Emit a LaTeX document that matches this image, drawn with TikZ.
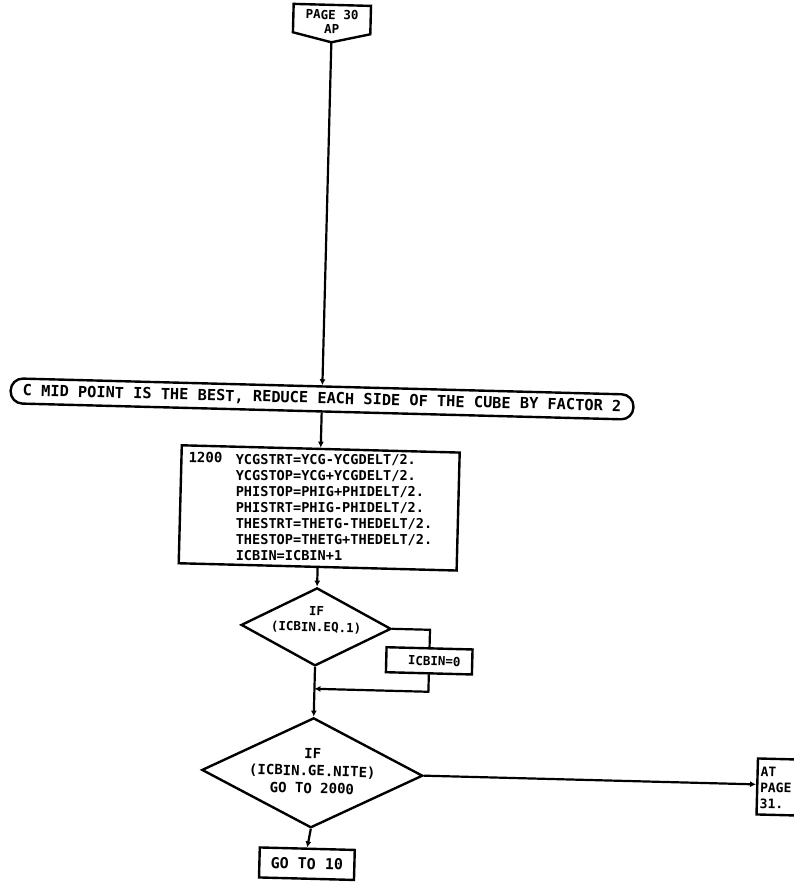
\documentclass[tikz,border=0pt]{standalone}
\usepackage{fontspec}
\setmonofont{DejaVu Sans Mono}
\usetikzlibrary{shapes.geometric,arrows.meta,calc}
\tikzset{
  ln/.style={line width=2.2pt},
  arr/.style={line width=2.2pt,-{Latex[length=6pt,width=6pt]}},
  box/.style={draw,line width=2.4pt,inner sep=0pt,transform shape},
  outline/.style={draw,line width=2.4pt,line join=miter},
  txt/.style={font={\ttfamily\bfseries\fontsize{#1}{#1}\selectfont},inner sep=0pt,align=center,transform shape},
}
\begin{document}
\begin{tikzpicture}[x=1pt,y=-1pt]
\path[use as bounding box,fill=white] (0,0) rectangle (793,883);
\begin{scope}[rotate around={-1.5:(400,440)}]
  % off-page connector at top
  \node[minimum width=77pt,minimum height=28pt,inner sep=0pt,transform shape] (top) at (321,21) {};
  \node[align=center,inner sep=0pt,transform shape,font={\ttfamily\bfseries\fontsize{12.5}{14.5}\selectfont}] (toptxt) at (321,24) {PAGE 30\\AP};
  \coordinate (toptip) at ($(top.south)+(0,9)$);
  \draw[outline] (top.north west) -- (top.north east) -- (top.south east) -- (toptip) -- (top.south west) -- cycle;
  % comment
  \node[box,rounded corners=12pt,minimum width=623pt,minimum height=25pt,txt=15.3] (cmt) at (321,401)
    {C MID POINT IS THE BEST, REDUCE EACH SIDE OF THE CUBE BY FACTOR 2};
  % statement block
  \node[box,minimum width=278pt,minimum height=118pt] (calc) at (321,510) {};
  \node[txt=14,anchor=north west,align=left] (lbl) at (189,457) {1200};
  \node[anchor=north west,align=left,inner sep=0pt,font={\ttfamily\bfseries\fontsize{13.6}{16}\selectfont}] (eqs) at (236,458)
    {YCGSTRT=YCG-YCGDELT/2.\\YCGSTOP=YCG+YCGDELT/2.\\PHISTOP=PHIG+PHIDELT/2.\\PHISTRT=PHIG-PHIDELT/2.\\THESTRT=THETG-THEDELT/2.\\THESTOP=THETG+THEDELT/2.\\ICBIN=ICBIN+1};
  % decision 1
  \node[box,diamond,minimum width=150pt,minimum height=78pt] (d1) at (321,629) {};
  \node[align=center,inner sep=0pt,transform shape,font={\ttfamily\bfseries\fontsize{12.5}{16}\selectfont}] (d1t) at (321,622) {IF\\(ICBIN.EQ.1)};
  % side box
  \node[box,minimum width=86pt,minimum height=25pt] (sb) at (435,660) {};
  \node[txt=12.5] (sbt) at (440,660) {ICBIN=0};
  \coordinate (mrg) at (321,691);
  % decision 2
  \node[box,diamond,minimum width=221pt,minimum height=110pt] (d2) at (321,775) {};
  \node[align=center,inner sep=0pt,transform shape,font={\ttfamily\bfseries\fontsize{14}{17.5}\selectfont}] (d2t) at (321,773) {IF\\(ICBIN.GE.NITE)\\GO TO 2000};
  % go to 10
  \node[box,minimum width=95pt,minimum height=30pt,txt=15] (go) at (318,866) {GO TO 10};
  % off-page connector at right (cut by page edge)
  \node[box,anchor=west,minimum width=70pt,minimum height=56pt] (atpg) at (765,777) {};
  \node[anchor=north west,align=left,inner sep=0pt,transform shape,font={\ttfamily\bfseries\fontsize{13}{16}\selectfont}] (atpgt) at (769,757) {AT\\PAGE\\31.};
  % connectors
  \draw[arr] (toptip) -- (cmt.north);
  \draw[arr] (cmt.south) -- (calc.north);
  \draw[arr] (calc.south) -- (d1.north);
  \draw[ln] (d1.east) -| (sb.north);
  \draw[arr] (sb.south) |- (mrg);
  \draw[arr] (d1.south) -- (d2.north);
  \draw[arr] (d2.east) -- (d2.east -| atpg.west);
  \draw[arr] (d2.south) -- (go.north);
\end{scope}
\end{tikzpicture}
\end{document}
